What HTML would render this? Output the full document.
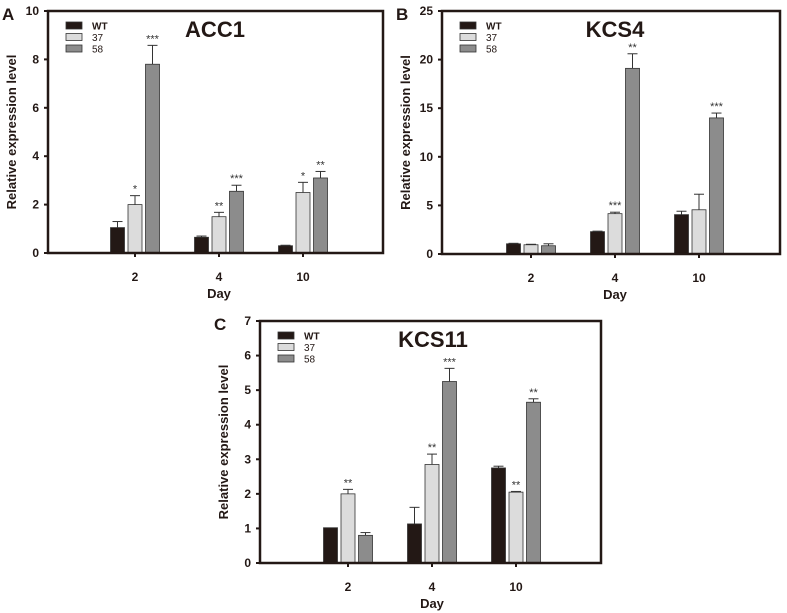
<!DOCTYPE html>
<html><head><meta charset="utf-8"><style>
body{margin:0;background:#fff;}
svg{display:block;font-family:"Liberation Sans",Arial,sans-serif;}
</style></head><body>
<svg id="fig" width="787" height="613" viewBox="0 0 787 613"></svg>
<script>
const days = ["2","4","10"];
const seriesNames = ["WT","37","58"];
const accWT = [1.05,0.65,0.3],  accWTerr = [0.25,0.05,0.02];
const acc37 = [2.0,1.5,2.5],    acc37err = [0.37,0.18,0.42];
const acc58 = [7.8,2.55,3.1],   acc58err = [0.78,0.25,0.27];
const accStars = [["","*","***"],["","**","***"],["","*","**"]];
const kcs4WT = [1.05,2.3,4.05], kcs4WTerr = [0.05,0.05,0.35];
const kcs437 = [0.95,4.15,4.55], kcs437err = [0.05,0.15,1.6];
const kcs458 = [0.85,19.1,14.0], kcs458err = [0.2,1.5,0.5];
const kcs4Stars = [["","",""],["","***","**"],["","","***"]];
const kcs11WT = [1.02,1.13,2.75], kcs11WTerr = [0,0.48,0.05];
const kcs1137 = [2.0,2.85,2.05],  kcs1137err = [0.13,0.3,0.02];
const kcs1158 = [0.8,5.25,4.65],  kcs1158err = [0.08,0.38,0.1];
const kcs11Stars = [["","**",""],["","**","***"],["","**","**"]];
const accTicks = [0,2,4,6,8,10];
const kcs4Ticks = [0,5,10,15,20,25];
const kcs11Ticks = [0,1,2,3,4,5,6,7];

const NS="http://www.w3.org/2000/svg";
const svg=document.getElementById('fig');
const colors=["#231815","#dcdcdc","#8c8c8c"];
function mk(tag,attrs,parent,text){const e=document.createElementNS(NS,tag);for(const k in attrs)e.setAttribute(k,attrs[k]);if(text!==undefined)e.textContent=text;(parent||svg).appendChild(e);return e;}

function panel(p){
  const g=mk('g',{});
  
  
  const ymax=p.ticks[p.ticks.length-1];
  const y=v=>p.b-(v/ymax)*(p.b-p.t);
  const xs=[p.x0,p.x0+84,p.x0+168];
  const vals=[p.wt,p.s37,p.s58], errs=[p.wte,p.s37e,p.s58e];
  for(let s=0;s<3;s++)for(let i=0;i<3;i++){
    const cx=xs[i]+(s-1)*17.5, v=vals[s][i], e=errs[s][i];
    const bar=mk('rect',{x:cx-7,y:y(v),width:14,height:p.b-y(v),fill:colors[s],stroke:'#333','stroke-width':0.8},g);
    
    
    if(e>0){
      mk('line',{x1:cx,x2:cx,y1:y(v),y2:y(v+e),stroke:'#333','stroke-width':1},g);
      mk('line',{x1:cx-5,x2:cx+5,y1:y(v+e),y2:y(v+e),stroke:'#333','stroke-width':1},g);
    }
    const st=p.stars[i][s];
    if(st){const t=mk('text',{x:cx,y:y(v+e)-3,'font-size':11,'text-anchor':'middle',fill:'#333'},g,st);
      }
  }
  const fr=mk('rect',{x:p.l,y:p.t,width:p.r-p.l,height:p.b-p.t,fill:'none',stroke:'#231815','stroke-width':2.5},g);
  
  p.ticks.forEach(tv=>{
    mk('line',{x1:p.l-4,x2:p.l,y1:y(tv),y2:y(tv),stroke:'#231815','stroke-width':2},g);
    const t=mk('text',{x:p.l-9,y:y(tv)+4,'font-size':12,'font-weight':'bold','text-anchor':'end',fill:'#231815'},g,tv);
    
  });
  days.forEach((d,i)=>{
    mk('line',{x1:xs[i],x2:xs[i],y1:p.b,y2:p.b+4,stroke:'#231815','stroke-width':2},g);
    const t=mk('text',{x:xs[i],y:p.b+28,'font-size':12,'font-weight':'bold','text-anchor':'middle',fill:'#231815'},g,d);
    
  });
  const xt=mk('text',{x:xs[1],y:p.b+45,'font-size':13,'font-weight':'bold','text-anchor':'middle',fill:'#231815'},g,'Day');
  
  const ym=(p.t+p.b)/2, yx=p.l-32;
  const yt=mk('text',{x:yx,y:ym,'font-size':13,'font-weight':'bold','text-anchor':'middle',fill:'#231815',transform:`rotate(-90 ${yx} ${ym})`},g,'Relative expression level');
  
  const ti=mk('text',{x:p.l+p.tx,y:p.t+26,'font-size':22,'font-weight':'bold','text-anchor':'middle',fill:'#231815'},g,p.title);
  
  const lb=mk('text',{x:p.l-46,y:p.t+9,'font-size':17,'font-weight':'bold',fill:'#231815'},g,p.id);
  
  seriesNames.forEach((n,s)=>{
    const ly=p.t+11+s*11.5;
    const sw=mk('rect',{x:p.l+18,y:ly,width:16,height:7,fill:colors[s],stroke:'#333','stroke-width':0.8},g);
    
    const lt=mk('text',{x:p.l+44,y:ly+7.5,'font-size':10,'font-weight':n==='WT'?'bold':'normal',fill:'#231815'},g,n);
    
  });
}
panel({id:'A',title:'ACC1',l:48,r:383,t:11,b:253,x0:135,tx:167,ticks:accTicks,wt:accWT,wte:accWTerr,s37:acc37,s37e:acc37err,s58:acc58,s58e:acc58err,stars:accStars});
panel({id:'B',title:'KCS4',l:442,r:780,t:11,b:254,x0:531,tx:173,ticks:kcs4Ticks,wt:kcs4WT,wte:kcs4WTerr,s37:kcs437,s37e:kcs437err,s58:kcs458,s58e:kcs458err,stars:kcs4Stars});
panel({id:'C',title:'KCS11',l:260,r:601,t:321,b:563,x0:348,tx:173,ticks:kcs11Ticks,wt:kcs11WT,wte:kcs11WTerr,s37:kcs1137,s37e:kcs1137err,s58:kcs1158,s58e:kcs1158err,stars:kcs11Stars});
</script>
</body></html>
